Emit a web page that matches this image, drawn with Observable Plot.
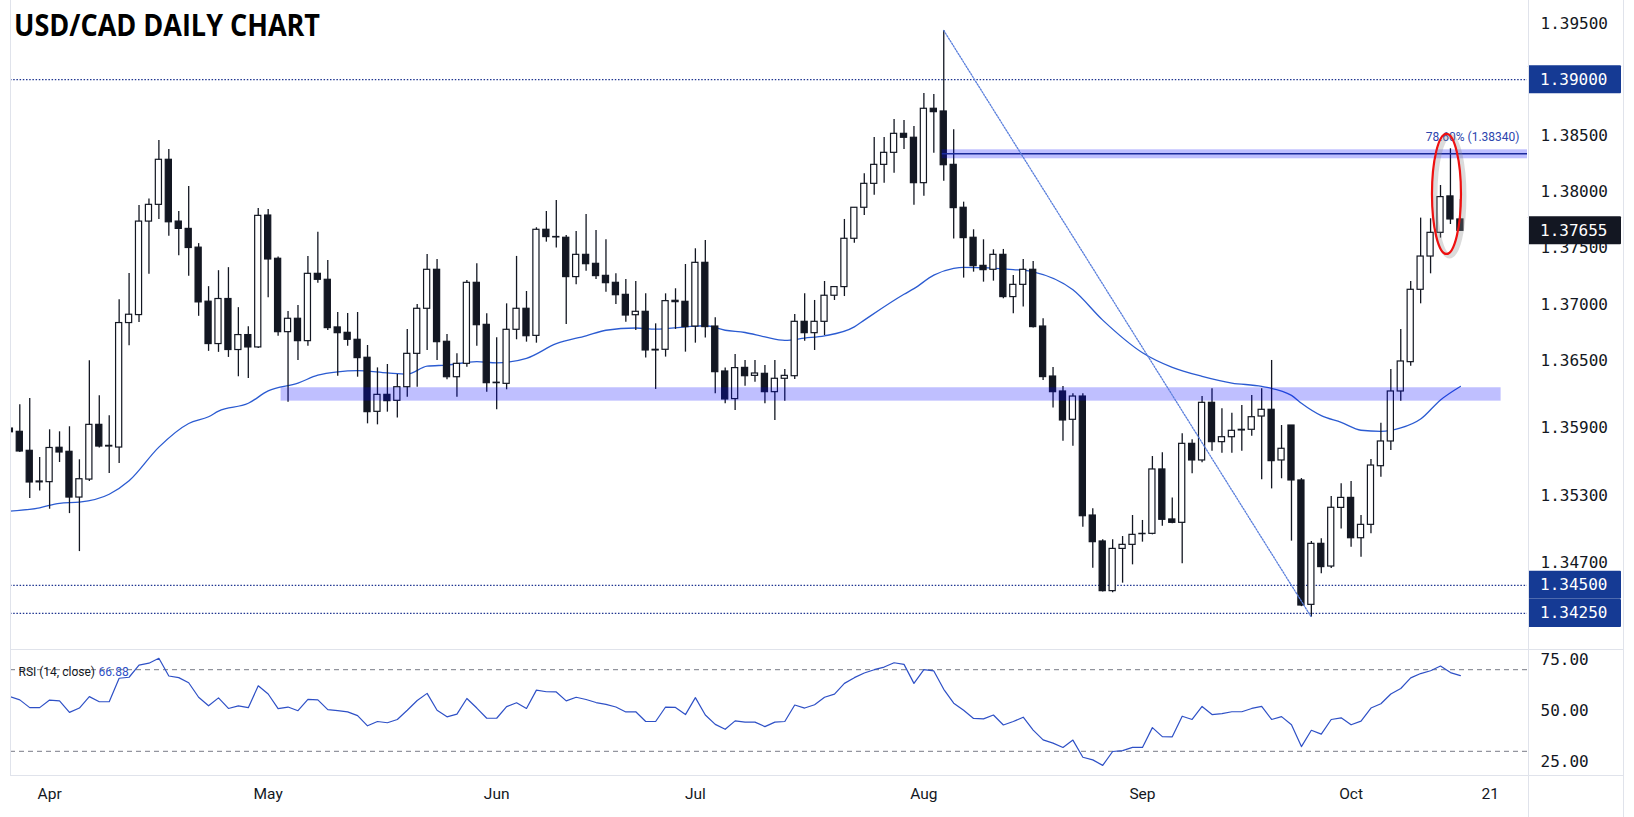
<!DOCTYPE html>
<html>
<head>
<meta charset="utf-8">
<script src="https://cdn.jsdelivr.net/npm/d3@7"></script>
<script src="https://cdn.jsdelivr.net/npm/@observablehq/plot@0.6"></script>
<style>
  html, body { margin: 0; padding: 0; background: #ffffff; }
  #root { position: relative; width: 1634px; height: 817px; overflow: hidden; background: #ffffff; }
  #root svg { display: block; }
  #main { position: absolute; left: 0; top: 0; }
  #rsi { position: absolute; left: 0; top: 649px; }
  #overlay { position: absolute; left: 0; top: 0; pointer-events: none; }
</style>
</head>
<body>
<div id="root"><div id="main"></div><div id="rsi"></div></div>
<script>
// ---------------- DATA ----------------
const title = "USD/CAD DAILY CHART";
// bar index of first candle (bars are consecutive trading days; index 93 = 5 Aug)
const firstIndex = -1;
const opens = [1.35895,
  1.35866,1.35697,1.35416,1.35418,1.35724,1.35688,1.35281,1.35441,1.35928,1.35735,
  1.35726,1.36834,1.36905,1.37737,1.37886,1.38287,1.37737,1.37672,1.37505,1.37024,
  1.36647,1.37048,1.36594,1.36727,1.36617,1.37791,1.37406,1.36753,1.36872,1.36673,
  1.37272,1.37219,1.36795,1.36747,1.36685,1.36525,1.36044,1.36195,1.36142,1.36263,
  1.36560,1.36961,1.37308,1.36667,1.36352,1.36471,1.37192,1.36818,1.36299,1.36293,
  1.36774,1.36961,1.36720,1.37664,1.37596,1.37593,1.37243,1.37441,1.37361,1.37254,
  1.37192,1.37085,1.36904,1.36934,1.36590,1.36596,1.37032,1.37023,1.36803,1.37370,
  1.36803,1.36403,1.36157,1.36435,1.36364,1.36382,1.36219,1.36338,1.36361,1.36845,
  1.36744,1.36845,1.37077,1.37154,1.37584,1.37860,1.38073,1.38242,1.38349,1.38518,
  1.38483,1.38079,1.38741,1.38717,1.38242,1.37860,1.37593,1.37343,1.37308,1.37441,
  1.37065,1.37174,1.37308,1.36803,1.36358,1.36225,1.35973,1.36180,1.35121,1.34890,
  1.34448,1.34824,1.34860,1.34955,1.34958,1.35531,1.35086,1.35056,1.35759,1.35611,
  1.36124,1.35774,1.35818,1.35878,1.35884,1.36002,1.36062,1.35611,1.35922,1.35433,
  1.34326,1.34869,1.34667,1.35189,1.35278,1.34919,1.35038,1.35560,1.35780,1.36225,
  1.36486,1.37130,1.37426,1.37637,1.37961,1.37756];
const highs = [1.35920,
  1.36107,1.36163,1.35637,1.35884,1.35866,1.35911,1.35617,1.36499,1.36187,1.36009,
  1.37042,1.37274,1.37880,1.37939,1.38459,1.38379,1.37826,1.38049,1.37541,1.37158,
  1.37300,1.37327,1.36971,1.36802,1.37853,1.37845,1.37421,1.36937,1.36990,1.37427,
  1.37643,1.37391,1.36928,1.36919,1.36928,1.36634,1.36435,1.36465,1.36376,1.36777,
  1.36999,1.37444,1.37400,1.36732,1.36560,1.37213,1.37361,1.36916,1.36703,1.37005,
  1.37427,1.37115,1.37682,1.37827,1.37925,1.37613,1.37649,1.37800,1.37658,1.37575,
  1.37272,1.37222,1.37204,1.37094,1.36827,1.37094,1.37139,1.37355,1.37495,1.37569,
  1.36881,1.36435,1.36554,1.36501,1.36501,1.36456,1.36501,1.36421,1.36910,1.37094,
  1.37035,1.37204,1.37154,1.37756,1.37862,1.38162,1.38486,1.38486,1.38646,1.38637,
  1.38584,1.38877,1.38868,1.39438,1.38554,1.37910,1.37664,1.37575,1.37486,1.37489,
  1.37257,1.37400,1.37382,1.36872,1.36439,1.36269,1.36204,1.36204,1.35181,1.34905,
  1.34905,1.34934,1.35121,1.35077,1.35646,1.35679,1.35276,1.35848,1.35795,1.36180,
  1.36249,1.36071,1.36032,1.36100,1.36189,1.36249,1.36501,1.35922,1.35922,1.35450,
  1.34890,1.34914,1.35291,1.35403,1.35424,1.35121,1.35620,1.35943,1.36421,1.36777,
  1.37204,1.37768,1.37762,1.38058,1.38385,1.37934];
const lows = [1.35840,
  1.35682,1.35272,1.35340,1.35177,1.35593,1.35138,1.34800,1.35423,1.35721,1.35495,
  1.35584,1.36632,1.36840,1.37268,1.37755,1.37606,1.37434,1.37250,1.36894,1.36582,
  1.36573,1.36528,1.36356,1.36341,1.36608,1.37059,1.36717,1.36130,1.36501,1.36628,
  1.37189,1.36768,1.36361,1.36628,1.36352,1.35937,1.35928,1.36041,1.35988,1.36174,
  1.36263,1.36590,1.36501,1.36329,1.36174,1.36441,1.36628,1.36219,1.36062,1.36240,
  1.36685,1.36664,1.36655,1.37554,1.37501,1.36821,1.37174,1.37296,1.37222,1.37109,
  1.36999,1.36842,1.36768,1.36522,1.36243,1.36531,1.36777,1.36575,1.36655,1.36700,
  1.36204,1.36115,1.36056,1.36272,1.36308,1.36115,1.35967,1.36139,1.36332,1.36673,
  1.36590,1.36723,1.37035,1.37070,1.37545,1.37791,1.37972,1.38079,1.38168,1.38379,
  1.37883,1.37963,1.38346,1.38097,1.37581,1.37234,1.37287,1.37198,1.37207,1.37050,
  1.36916,1.36976,1.36790,1.36323,1.36077,1.35783,1.35738,1.35017,1.34652,1.34440,
  1.34433,1.34519,1.34682,1.34884,1.34949,1.35026,1.35047,1.34691,1.35492,1.35590,
  1.35694,1.35676,1.35676,1.35694,1.35827,1.35439,1.35358,1.35448,1.34893,1.34310,
  1.34217,1.34602,1.34650,1.35002,1.34839,1.34750,1.34958,1.35462,1.35700,1.36139,
  1.36450,1.37005,1.37272,1.37590,1.37711,1.37655];
const closes = [1.35862,
  1.35691,1.35415,1.35424,1.35722,1.35682,1.35281,1.35444,1.35928,1.35735,1.35741,
  1.36834,1.36908,1.37737,1.37886,1.38287,1.37731,1.37672,1.37502,1.37018,1.36647,
  1.37048,1.36594,1.36727,1.36617,1.37788,1.37400,1.36753,1.36872,1.36673,1.37272,
  1.37219,1.36789,1.36744,1.36685,1.36522,1.36041,1.36195,1.36139,1.36263,1.36560,
  1.36961,1.37308,1.36664,1.36352,1.36471,1.37192,1.36815,1.36299,1.36303,1.36774,
  1.36961,1.36717,1.37664,1.37599,1.37600,1.37243,1.37441,1.37358,1.37252,1.37189,
  1.37082,1.36901,1.36934,1.36590,1.36596,1.37029,1.37020,1.36798,1.37370,1.36798,
  1.36397,1.36154,1.36433,1.36361,1.36385,1.36219,1.36338,1.36364,1.36845,1.36744,
  1.36845,1.37077,1.37154,1.37584,1.37860,1.38073,1.38242,1.38349,1.38518,1.38483,
  1.38079,1.38741,1.38711,1.38239,1.37857,1.37590,1.37340,1.37305,1.37441,1.37065,
  1.37174,1.37308,1.36798,1.36353,1.36219,1.35967,1.36180,1.35115,1.34884,1.34448,
  1.34824,1.34860,1.34949,1.34958,1.35531,1.35083,1.35056,1.35759,1.35611,1.36124,
  1.35774,1.35818,1.35875,1.35884,1.35996,1.36062,1.35605,1.35715,1.35433,1.34320,
  1.34869,1.34662,1.35190,1.35278,1.34919,1.35038,1.35566,1.35780,1.36225,1.36492,
  1.37130,1.37426,1.37637,1.37955,1.37756,1.37655];

// moving average
const maIdx = [-1,2,4,6,9,11,14,17,19,20,23,25,28,30,32,34,37,39,41,43,46,48,51,54,57,59,62,64,67,69,71,73,75,77,79,81,84,85,89,90,92,94,95,100,102,106,109,113,116,119,122,125,128,129,131,133,135,137,139,141,143,145];
const maVal = [1.3516,1.3519,1.3523,1.3524,1.3531,1.3543,1.3573,1.3594,1.3600,1.3605,1.3612,1.3623,1.3630,1.3637,1.3640,1.3641,1.3639,1.3638,1.3645,1.3646,1.3649,1.3648,1.3652,1.3665,1.3672,1.3677,1.3679,1.3678,1.3680,1.3681,1.3677,1.3675,1.3671,1.3668,1.3670,1.3672,1.3680,1.3686,1.3709,1.3714,1.3726,1.3732,1.3733,1.3731,1.3729,1.3713,1.3686,1.3657,1.3644,1.3636,1.3630,1.3627,1.3619,1.3612,1.3601,1.3595,1.3588,1.3587,1.3590,1.3598,1.3615,1.3627];

// RSI(14) values, one per bar from firstIndex
const rsiVals = [56.8,
  55.2,51.4,51.4,55.1,54.7,49.1,51.2,56.8,54.3,54.3,
  65.8,66.3,72.2,73.2,75.6,66.9,66.1,63.6,56.5,52.3,
  56.2,51.0,52.3,51.4,62.1,58.1,50.9,51.7,49.9,55.5,
  55.2,50.4,49.9,49.3,47.5,42.5,44.6,44.0,45.6,50.1,
  54.9,58.4,50.1,46.9,48.2,55.9,51.2,46.2,46.2,51.9,
  53.8,51.0,60.0,59.2,59.1,54.7,56.5,55.4,53.9,53.0,
  51.7,49.3,49.4,44.6,44.6,51.7,51.5,48.0,56.3,47.8,
  43.2,40.8,44.9,44.3,44.3,42.1,44.3,44.6,52.7,51.2,
  52.8,56.5,58.0,63.3,66.1,68.4,70.0,71.3,73.4,72.6,
  63.3,70.0,69.4,60.4,53.6,50.1,46.1,45.9,47.8,42.9,
  44.6,46.7,40.4,35.6,34.0,31.9,35.5,27.1,25.8,23.1,
  29.9,30.3,31.9,31.9,41.6,37.2,37.1,47.2,45.6,52.0,
  48.0,48.5,49.4,49.4,51.0,52.0,45.6,47.0,43.0,32.3,
  40.3,38.4,45.6,46.4,43.0,44.8,51.2,53.3,58.1,60.8,
  66.0,68.1,69.5,71.8,68.6,67.1];
const rsiLevels = [70, 30];
const rsiTicks = [25, 50, 75];
const rsiLabel = "RSI (14, close)";
const rsiLast = "66.88";

// price axis
const priceTicks = [1.395, 1.385, 1.38, 1.375, 1.37, 1.365, 1.359, 1.353, 1.347];
const hLevels = [1.39, 1.345, 1.3425];
const priceBoxes = [
  {price: 1.39, fill: "#153a94"},
  {price: 1.37655, fill: "#131722"},
  {price: 1.345, fill: "#153a94"},
  {price: 1.3425, fill: "#153a94"}
];

// time axis
const monthTickIdx = [3, 25, 48, 68, 91, 113, 134, 148];
const monthTickLabels = ["Apr", "May", "Jun", "Jul", "Aug", "Sep", "Oct", "21"];

// drawings
const supportZone = [{start: 26.3, end: 149.1, lo: 1.36139, hi: 1.36258}];
const fibZone = [{start: 92.85, end: 151.8, lo: 1.38296, hi: 1.38376}];
const fibLevel = [{start: 92.85, end: 151.8, price: 1.3834, label: "78.60% (1.38340)"}];
const trendLine = [{i: 93, price: 1.39438}, {i: 130, price: 1.34217}];
const ellipses = [{i: 143.6, price: 1.37983}];

// ---------------- BUILD ----------------
const candles = opens.map((o, k) => ({
  i: k + firstIndex, open: o, high: highs[k], low: lows[k], close: closes[k], up: closes[k] >= o
}));
const ma = maIdx.map((i, k) => ({i, v: maVal[k]}));
const rsi = rsiVals.map((v, k) => ({i: k + firstIndex, v}));
const tickLabel = new Map(monthTickIdx.map((d, k) => [d, monthTickLabels[k]]));

const W = 1634;
const xDomain = [-0.936, 151.756];
const ink = "#131722";
const monoFont = "DejaVu Sans Mono, monospace";

const ellipseSymbol = {
  draw(context) {
    const rx = 14.5, ry = 60, k = 0.5523;
    context.moveTo(0, -ry);
    context.bezierCurveTo(k * rx, -ry, rx, -k * ry, rx, 0);
    context.bezierCurveTo(rx, k * ry, k * rx, ry, 0, ry);
    context.bezierCurveTo(-k * rx, ry, -rx, k * ry, -rx, 0);
    context.bezierCurveTo(-rx, -k * ry, -k * rx, -ry, 0, -ry);
    context.closePath();
  }
};

const main = Plot.plot({
  width: W, height: 649,
  marginLeft: 10, marginRight: 107, marginTop: 0, marginBottom: 0,
  x: {domain: xDomain, axis: null},
  y: {domain: [1.339286, 1.397047], label: null},
  style: {background: "transparent", overflow: "visible"},
  marks: [
    Plot.ruleY(hLevels, {stroke: "#1f3590", strokeWidth: 1.2, strokeDasharray: "1.5,1.7"}),
    Plot.line(ma, {x: "i", y: "v", stroke: "#2b5bd1", strokeWidth: 1.3, curve: "monotone-x", clip: true}),
    Plot.ruleX(candles, {x: "i", y1: "low", y2: "high", stroke: ink, strokeWidth: 1.3, clip: true}),
    Plot.rect(candles, {
      x1: d => d.i - 0.5, x2: d => d.i + 0.5, insetLeft: 1.9, insetRight: 1.9,
      y1: "open", y2: "close",
      fill: d => d.up ? "#ffffff" : ink, stroke: ink, strokeWidth: 1.2, clip: true
    }),
    Plot.rect(supportZone, {x1: "start", x2: "end", y1: "lo", y2: "hi", fill: "#0000ff", fillOpacity: 0.25, clip: true}),
    Plot.rect(fibZone, {x1: "start", x2: "end", y1: "lo", y2: "hi", fill: "#0000ff", fillOpacity: 0.25, clip: true}),
    Plot.ruleY(fibLevel, {x1: "start", x2: "end", y: "price", stroke: "#1a2a9c", strokeWidth: 1.5, clip: true}),
    Plot.line(trendLine, {x: "i", y: "price", stroke: "#5a7fdc", strokeWidth: 1.3, strokeDasharray: "1.5,1.5"}),
    Plot.text(fibLevel, {y: "price", text: "label", frameAnchor: "right", dx: -8, dy: -17, textAnchor: "end",
      fontSize: 12, fontFamily: "Roboto, sans-serif", fill: "#2c45ad"}),
    Plot.dot(ellipses, {x: "i", y: "price", symbol: ellipseSymbol, r: 5, fill: "none", stroke: "#888888",
      strokeOpacity: 0.3, strokeWidth: 5, dx: 3, dy: 2}),
    Plot.dot(ellipses, {x: "i", y: "price", symbol: ellipseSymbol, r: 5, fill: "none", stroke: "#ee1111", strokeWidth: 2.2}),
    Plot.axisY(priceTicks, {anchor: "right", tickSize: 0, tickPadding: 13, tickFormat: d3.format(".5f"),
      fontSize: 16, fontFamily: monoFont, color: ink, label: null})
  ]
});
document.getElementById("main").appendChild(main);

// price boxes on the right axis, placed through the plot's y scale
{
  const y = main.scale("y");
  const svg = d3.select(main);
  const g = svg.append("g").attr("text-anchor", "start");
  for (const b of priceBoxes) {
    const yy = y.apply(b.price);
    g.append("rect").attr("x", 1528).attr("y", yy - 14).attr("width", 93).attr("height", 28)
      .attr("rx", 1).attr("fill", b.fill);
    g.append("text").attr("x", 1540).attr("y", yy).attr("dy", "0.35em")
      .attr("text-anchor", "start")
      .attr("fill", "#ffffff").attr("font-size", 16).attr("font-family", monoFont)
      .text(d3.format(".5f")(b.price));
  }
}

const rsiPlot = Plot.plot({
  width: W, height: 168,
  marginLeft: 10, marginRight: 107, marginTop: 2, marginBottom: 42,
  x: {domain: xDomain},
  y: {domain: [18.14, 78.92], label: null},
  style: {background: "transparent", overflow: "visible"},
  marks: [
    Plot.ruleY(rsiLevels, {stroke: "#787b86", strokeWidth: 1, strokeDasharray: "5,4"}),
    Plot.line(rsi, {x: "i", y: "v", stroke: "#2e50c6", strokeWidth: 1.2, clip: true}),
    Plot.text([{t: rsiLabel}], {text: "t", frameAnchor: "top-left", dx: 8, dy: 16, textAnchor: "start",
      fontSize: 12, fontFamily: "Roboto, sans-serif", fill: ink}),
    Plot.text([{t: rsiLast}], {text: "t", frameAnchor: "top-left", dx: 88, dy: 16, textAnchor: "start",
      fontSize: 12, fontFamily: "Roboto, sans-serif", fill: "#2e50c6"}),
    Plot.axisY(rsiTicks, {anchor: "right", tickSize: 0, tickPadding: 13, tickFormat: d3.format(".2f"),
      fontSize: 16, fontFamily: monoFont, color: ink, label: null}),
    Plot.axisX(monthTickIdx, {anchor: "bottom", tickSize: 0, tickPadding: 12, tickFormat: d => tickLabel.get(d),
      fontSize: 15.5, fontFamily: "Roboto, sans-serif", color: ink, label: null})
  ]
});
document.getElementById("rsi").appendChild(rsiPlot);

// overlay: panel borders and title
{
  const ov = d3.select("#root").append("svg").attr("id", "overlay").attr("width", W).attr("height", 817);
  const line = (x1, y1, x2, y2) => ov.append("line").attr("x1", x1).attr("y1", y1).attr("x2", x2).attr("y2", y2)
    .attr("stroke", "#e0e3eb").attr("stroke-width", 1);
  line(10.5, 0, 10.5, 775);
  line(1528.5, 0, 1528.5, 817);
  line(1623.5, 0, 1623.5, 817);
  line(10, 649.5, 1624, 649.5);
  line(10, 775.5, 1624, 775.5);
  ov.append("text").attr("x", 14).attr("y", 36)
    .attr("font-family", "Open Sans, sans-serif").attr("font-weight", 700).attr("font-size", 29.5)
    .attr("fill", "#000000").attr("textLength", 306).attr("lengthAdjust", "spacingAndGlyphs")
    .text(title);
}
</script>
</body>
</html>
